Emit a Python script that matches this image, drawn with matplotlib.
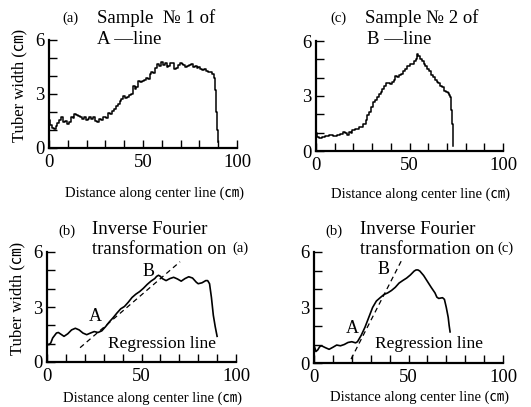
import numpy as np
import matplotlib
matplotlib.use("Agg")
import matplotlib.pyplot as plt
from matplotlib.ticker import FixedLocator, MultipleLocator

plt.rcParams['font.family'] = ['Liberation Serif', 'Noto Sans CJK JP']

# (a) raw tuber width, sample No.1 of A-line
a_x = [0, 1, 2, 3, 4, 5, 6, 7, 8, 9, 10, 11, 12, 13, 14, 15, 16, 17, 18, 19,
       20, 21, 22, 23, 24, 25, 26, 27, 28, 29, 30, 31, 32, 33, 34, 35, 36, 37, 38, 39,
       40, 41, 42, 43, 44, 45, 46, 47, 48, 49, 50, 51, 52, 53, 54, 55, 56, 57, 58, 59,
       60, 61, 62, 63, 64, 65, 66, 67, 68, 69, 70, 71, 72, 73, 74, 75, 76, 77, 78, 79,
       80, 81, 82, 83, 84, 85, 86, 87, 88, 88.7, 89.3, 89.7, 90]
a_y = [1.55, 1.3, 1.1, 1.05, 1.2, 1.4, 1.55, 1.75, 1.45, 1.5, 1.35, 1.45, 1.7, 1.65, 1.9, 1.85, 1.8, 1.7, 1.6, 1.75,
       1.55, 1.6, 1.75, 1.6, 1.7, 1.5, 1.45, 1.6, 1.55, 1.7, 1.75, 1.65, 1.95, 1.9, 2.05, 2.15, 2.35, 2.45, 2.6, 2.75,
       2.9, 2.8, 2.85, 2.95, 3.0, 3.45, 3.3, 3.4, 3.7, 3.65, 3.75, 3.8, 3.9, 3.85, 4.1, 4.2, 4.15, 4.45, 4.65, 4.55,
       4.8, 4.6, 4.7, 4.5, 4.55, 4.75, 4.7, 4.4, 4.45, 4.6, 4.75, 4.65, 4.6, 4.5, 4.55, 4.6, 4.65, 4.5, 4.55, 4.45,
       4.5, 4.4, 4.35, 4.4, 4.3, 4.25, 4.2, 4.1, 3.9, 3.2, 2.0, 1.0, 0.35]

# (c) raw tuber width, sample No.2 of B-line
c_x = [0, 1, 2, 4, 6, 8, 10, 12, 14, 15, 16, 17, 18, 19, 20, 22, 24, 26, 27, 28,
       29, 30, 31, 32, 33, 34, 35, 36, 37, 38, 39, 40, 41, 42, 43, 44, 45, 46, 47, 48,
       49, 50, 51, 52, 53, 54, 54.5, 55, 56, 57, 58, 59, 60, 61, 62, 63, 64, 65, 66, 67,
       68, 69, 70, 71, 71.5, 72, 72.5, 73, 73.3]
c_y = [0.97, 0.75, 0.7, 0.79, 0.82, 0.86, 0.84, 0.88, 0.91, 1.06, 1.0, 0.88, 1.06, 0.97, 1.15, 1.18, 1.29, 1.5, 1.68, 1.95,
       2.13, 2.4, 2.67, 2.76, 2.94, 3.12, 3.24, 3.39, 3.57, 3.71, 3.69, 3.66, 3.75, 3.87, 4.1, 4.01, 4.16, 4.19, 4.34, 4.46,
       4.64, 4.64, 4.77, 4.73, 4.91, 5.0, 5.27, 5.18, 5.0, 4.91, 4.73, 4.64, 4.46, 4.37, 4.16, 4.01, 3.87, 3.75, 3.69, 3.57,
       3.48, 3.3, 3.21, 3.17, 3.08, 2.94, 2.22, 1.5, 0.25]

# (b) inverse Fourier transformation on (a)
ba_x = [0, 1, 2, 3, 5, 6, 7, 9, 11, 13, 15, 17, 19, 21, 23, 25, 27, 29, 31, 33,
        35, 37, 39, 41, 43, 45, 47, 49, 51, 53, 55, 57, 58, 59, 60, 61, 63, 65, 67, 69,
        71, 73, 75, 77, 79, 80, 82, 84, 85, 86, 87, 88, 89, 90]
ba_y = [1.0, 0.94, 1.04, 1.31, 1.58, 1.61, 1.54, 1.4, 1.54, 1.75, 1.84, 1.75, 1.58, 1.49, 1.58, 1.66, 1.61, 1.7, 1.93, 2.19,
        2.42, 2.67, 2.9, 3.03, 3.26, 3.52, 3.7, 3.84, 4.02, 4.23, 4.41, 4.55, 4.67, 4.73, 4.67, 4.55, 4.44, 4.55, 4.62, 4.53,
        4.41, 4.55, 4.65, 4.58, 4.35, 4.27, 4.32, 4.44, 4.44, 4.27, 3.52, 2.55, 1.93, 1.4]
ba_reg_x = [17.5, 70.4]
ba_reg_y = [0.78, 5.47]

# (b) inverse Fourier transformation on (c)
bc_x = [0, 1, 2, 3, 4, 6, 8, 10, 12, 14, 16, 18, 20, 22, 23, 25, 27, 29, 31, 33,
        35, 37, 39, 41, 43, 45, 47, 49, 51, 53, 54, 55, 56, 58, 60, 62, 64, 65, 66, 68,
        69, 70, 71, 71.5, 72]
bc_y = [0.97, 0.62, 0.71, 0.88, 0.93, 0.83, 0.74, 0.85, 0.97, 0.93, 1.0, 1.11, 1.15, 1.09, 1.15, 1.5, 1.94, 2.47, 3.0, 3.35,
        3.53, 3.7, 3.79, 3.92, 4.09, 4.32, 4.46, 4.59, 4.76, 4.97, 5.03, 5.03, 4.97, 4.73, 4.41, 4.09, 3.79, 3.56, 3.49, 3.53,
        3.44, 3.0, 2.47, 2.03, 1.68]
bc_reg_x = [19.6, 46.4]
bc_reg_y = [0.21, 5.56]

W, H = 531, 407
fig = plt.figure(figsize=(W / 100, H / 100), dpi=100)


def px_axes(l, t, r, b):
    return fig.add_axes([l / W, 1 - b / H, (r - l) / W, (b - t) / H])


def style(ax, xlab_y, ylabel=True):
    ax.set_xlim(0, 100)
    ax.set_ylim(0, 6)
    ax.spines['top'].set_visible(False)
    ax.spines['right'].set_visible(False)
    ax.spines['left'].set_linewidth(1.6)
    ax.spines['bottom'].set_linewidth(1.6)
    ax.xaxis.set_major_locator(FixedLocator([0, 50, 100]))
    ax.xaxis.set_minor_locator(MultipleLocator(10))
    ax.yaxis.set_major_locator(FixedLocator([0, 3, 6]))
    ax.yaxis.set_minor_locator(MultipleLocator(1))
    ax.tick_params(which='both', direction='in', length=6, width=1.0, labelsize=13.5, pad=3)
    ax.tick_params(axis='x', pad=4)
    ax.set_xlabel('Distance along center line (㎝)', fontsize=10.5)
    ax.xaxis.set_label_coords(0.56, xlab_y)
    if ylabel:
        ax.set_ylabel('Tuber width (㎝)', fontsize=12)
        ax.yaxis.set_label_coords(-0.115, 0.58)


def ftext(x, y, s, size):
    fig.text(x / W, 1 - y / H, s, fontsize=size, ha='left', va='center')


ax_a = px_axes(49, 40, 237, 148)
ax_a.plot(a_x, a_y, color='black', lw=1.1, drawstyle='steps-mid')
style(ax_a, -0.36)
ftext(62, 18, '(a)', 10.5)
ftext(97, 18, 'Sample  № 1 of', 13.5)
ftext(97, 40, 'A —line', 13.5)

ax_c = px_axes(316, 41, 503, 151)
ax_c.plot(c_x, c_y, color='black', lw=1.1, drawstyle='steps-mid')
style(ax_c, -0.33, ylabel=False)
ftext(330, 18, '(c)', 10.5)
ftext(365, 18, 'Sample № 2 of', 13.5)
ftext(367, 40, 'B —line', 13.5)

ax_ba = px_axes(47, 252, 236, 362)
ax_ba.plot(ba_x, ba_y, color='black', lw=1.2)
ax_ba.plot(ba_reg_x, ba_reg_y, color='black', lw=0.9, ls=(0, (4, 3)))
style(ax_ba, -0.27)
ax_ba.text(25.4, 2.46, 'A', fontsize=13, ha='center', va='center')
ax_ba.text(53.6, 4.94, 'B', fontsize=13, ha='center', va='center')
ax_ba.text(32.5, 1.0, 'Regression line', fontsize=12.5, ha='left', va='center')
ftext(58, 231, '(b)', 10.5)
ftext(92, 230, 'Inverse Fourier', 13.5)
ftext(92, 250, 'transformation on', 13.5)
ftext(232, 248, '(a)', 10.5)

ax_bc = px_axes(314, 252, 503, 363)
ax_bc.plot(bc_x, bc_y, color='black', lw=1.2)
ax_bc.plot(bc_reg_x, bc_reg_y, color='black', lw=0.9, ls=(0, (4, 3)))
style(ax_bc, -0.25, ylabel=False)
ax_bc.text(20.3, 1.85, 'A', fontsize=13, ha='center', va='center')
ax_bc.text(36.7, 5.03, 'B', fontsize=13, ha='center', va='center')
ax_bc.text(32.3, 1.02, 'Regression line', fontsize=12.5, ha='left', va='center')
ftext(325, 231, '(b)', 10.5)
ftext(360, 230, 'Inverse Fourier', 13.5)
ftext(360, 250, 'transformation on', 13.5)
ftext(497, 248, '(c)', 10.5)

fig.savefig('out.png', dpi=100)
